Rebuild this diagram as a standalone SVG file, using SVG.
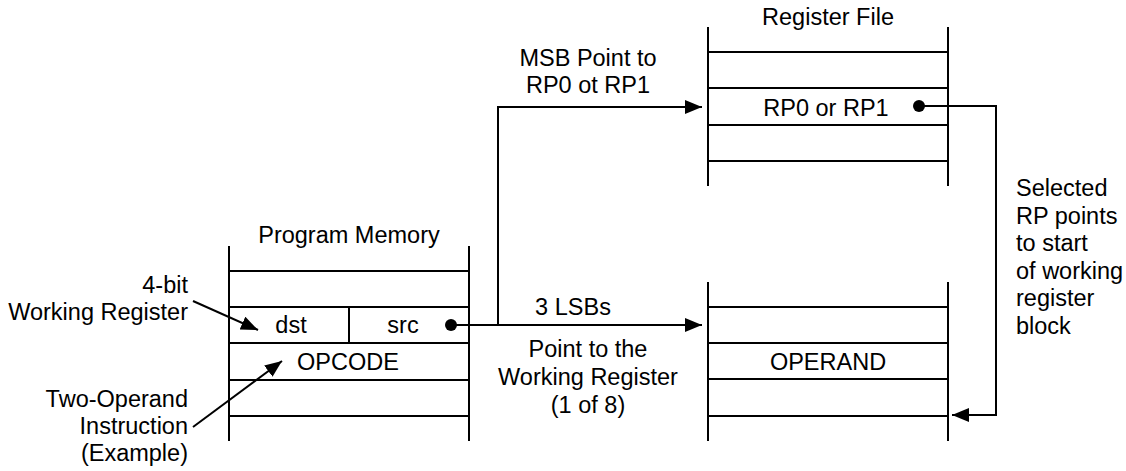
<svg xmlns="http://www.w3.org/2000/svg" width="1126" height="471" viewBox="0 0 1126 471">
<style>
.ln{stroke:#000;stroke-width:2;fill:none}
.t{font-family:"Liberation Sans",Arial,sans-serif;font-size:23.5px;fill:#000}
.c{text-anchor:middle}
.e{text-anchor:end}
</style>
<defs>
<marker id="ah" markerUnits="userSpaceOnUse" markerWidth="18" markerHeight="16" refX="17" refY="7" orient="auto">
<path d="M0,0 L17,7 L0,14 z" fill="#000"/>
</marker>
</defs>
<rect width="1126" height="471" fill="#fff"/>
<g id="program-memory">
<text class="t c" x="349" y="243">Program Memory</text>
<path class="ln" d="M229,246V441M469,246V441M229,271H469M229,307H469M229,343H469M229,380H469M229,416H469M349,307V343"/>
<text class="t c" x="291" y="333">dst</text>
<text class="t c" x="403" y="333">src</text>
<text class="t c" x="348" y="370">OPCODE</text>
<circle cx="451" cy="325" r="6" fill="#000"/>
</g>
<g id="register-file">
<text class="t c" x="828" y="25">Register File</text>
<path class="ln" d="M708,27V186M948,27V186M708,52H948M708,88H948M708,125H948M708,161H948"/>
<text class="t c" x="826" y="116">RP0 or RP1</text>
<circle cx="919" cy="106" r="6" fill="#000"/>
</g>
<g id="working-registers">
<path class="ln" d="M708,282V441M948,282V441M708,307H948M708,343H948M708,379H948M708,416H948"/>
<text class="t c" x="828" y="370">OPERAND</text>
</g>
<g id="labels">
<text class="t e" x="188" y="293">4-bit</text>
<text class="t e" x="188" y="320">Working Register</text>
<text class="t e" x="188" y="407">Two-Operand</text>
<text class="t e" x="188" y="434">Instruction</text>
<text class="t e" x="188" y="461">(Example)</text>
<text class="t c" x="588" y="66">MSB Point to</text>
<text class="t c" x="588" y="93">RP0 ot RP1</text>
<text class="t c" x="573" y="315">3 LSBs</text>
<text class="t c" x="588" y="357">Point to the</text>
<text class="t c" x="588" y="385">Working Register</text>
<text class="t c" x="588" y="413">(1 of 8)</text>
<text class="t" x="1016" y="196">Selected</text>
<text class="t" x="1016" y="224">RP points</text>
<text class="t" x="1016" y="251">to start</text>
<text class="t" x="1016" y="279">of working</text>
<text class="t" x="1016" y="306">register</text>
<text class="t" x="1016" y="334">block</text>
</g>
<g id="connectors">
<path class="ln" d="M451,325H702" marker-end="url(#ah)"/>
<path class="ln" d="M498,325V107H702" marker-end="url(#ah)"/>
<path class="ln" d="M919,106H996V415H952" marker-end="url(#ah)"/>
<path class="ln" d="M193,301L258,330" marker-end="url(#ah)"/>
<path class="ln" d="M193,427L282,361" marker-end="url(#ah)"/>
</g>
</svg>
